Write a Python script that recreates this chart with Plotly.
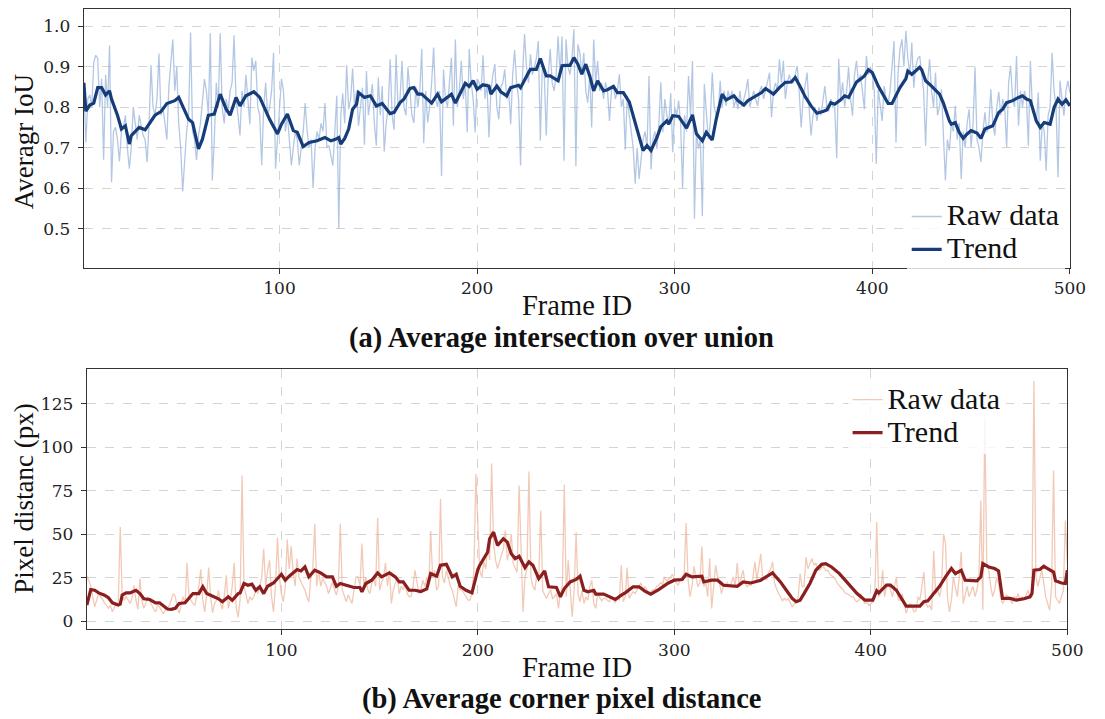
import plotly.graph_objects as go

# the page body has an 8 px margin, so the figure is drawn 8 px in and down
OFF = 8
W, H = 1105 - OFF, 719 - OFF

frames = list(range(1, 501))

iou_raw = [
    0.86, 0.713, 0.82, 0.83, 0.80, 0.91, 0.928, 0.92, 0.80, 0.87,
    0.67, 0.88, 0.80, 0.952, 0.615, 0.74, 0.75, 0.72, 0.666, 0.74,
    0.75, 0.78, 0.70, 0.648, 0.70, 0.80, 0.76, 0.72, 0.78, 0.75,
    0.73, 0.72, 0.664, 0.76, 0.903, 0.80, 0.78, 0.82, 0.932, 0.78,
    0.80, 0.76, 0.72, 0.85, 0.90, 0.967, 0.84, 0.90, 0.76, 0.70,
    0.592, 0.68, 0.74, 0.78, 0.984, 0.74, 0.72, 0.67, 0.73, 0.76,
    0.82, 0.869, 0.84, 0.78, 0.982, 0.619, 0.72, 0.86, 0.80, 0.982,
    0.80, 0.76, 0.82, 0.79, 0.84, 0.86, 0.977, 0.82, 0.78, 0.73,
    0.84, 0.80, 0.88, 0.82, 0.758, 0.922, 0.89, 0.914, 0.80, 0.78,
    0.657, 0.80, 0.86, 0.78, 0.80, 0.84, 0.934, 0.648, 0.72, 0.80,
    0.87, 0.84, 0.74, 0.78, 0.72, 0.656, 0.70, 0.74, 0.72, 0.656,
    0.70, 0.74, 0.81, 0.74, 0.70, 0.72, 0.60, 0.70, 0.74, 0.72,
    0.76, 0.74, 0.81, 0.70, 0.705, 0.68, 0.656, 0.74, 0.828, 0.50,
    0.78, 0.834, 0.76, 0.903, 0.795, 0.82, 0.895, 0.80, 0.84, 0.754,
    0.80, 0.848, 0.707, 0.889, 0.78, 0.82, 0.857, 0.76, 0.705, 0.873,
    0.78, 0.852, 0.69, 0.76, 0.80, 0.918, 0.78, 0.744, 0.93, 0.80,
    0.82, 0.914, 0.80, 0.78, 0.898, 0.84, 0.78, 0.761, 0.85, 0.80,
    0.84, 0.944, 0.711, 0.84, 0.762, 0.80, 0.86, 0.947, 0.82, 0.80,
    0.84, 0.63, 0.893, 0.82, 0.80, 0.86, 0.922, 0.754, 0.967, 0.80,
    0.84, 0.914, 0.82, 0.86, 0.738, 0.943, 0.86, 0.82, 0.738, 0.87,
    0.86, 0.84, 0.928, 0.82, 0.86, 0.725, 0.84, 0.88, 0.906, 0.80,
    0.77, 0.85, 0.86, 0.893, 0.82, 0.84, 0.758, 0.88, 0.941, 0.86,
    0.82, 0.656, 0.88, 0.98, 0.90, 0.86, 0.93, 0.88, 0.90, 0.92,
    0.963, 0.717, 0.90, 0.88, 0.73, 0.88, 0.943, 0.86, 0.84, 0.88,
    0.975, 0.88, 0.974, 0.668, 0.967, 0.90, 0.88, 0.92, 0.992, 0.654,
    0.955, 0.934, 0.88, 0.934, 0.84, 0.811, 0.88, 0.75, 0.967, 0.86,
    0.914, 0.84, 0.86, 0.82, 0.861, 0.84, 0.766, 0.84, 0.854, 0.82,
    0.84, 0.881, 0.80, 0.82, 0.695, 0.828, 0.78, 0.74, 0.70, 0.611,
    0.70, 0.623, 0.68, 0.72, 0.74, 0.70, 0.877, 0.646, 0.72, 0.74,
    0.697, 0.76, 0.861, 0.738, 0.82, 0.78, 0.76, 0.834, 0.689, 0.80,
    0.78, 0.816, 0.76, 0.60, 0.78, 0.74, 0.877, 0.78, 0.914, 0.525,
    0.74, 0.697, 0.72, 0.531, 0.857, 0.78, 0.721, 0.76, 0.885, 0.80,
    0.78, 0.779, 0.865, 0.80, 0.84, 0.803, 0.84, 0.82, 0.84, 0.80,
    0.82, 0.795, 0.84, 0.80, 0.82, 0.84, 0.869, 0.80, 0.82, 0.84,
    0.82, 0.803, 0.84, 0.852, 0.82, 0.84, 0.86, 0.885, 0.775, 0.84,
    0.86, 0.84, 0.918, 0.86, 0.914, 0.82, 0.86, 0.88, 0.86, 0.86,
    0.88, 0.902, 0.84, 0.75, 0.82, 0.86, 0.885, 0.80, 0.73, 0.78,
    0.80, 0.766, 0.80, 0.78, 0.82, 0.852, 0.80, 0.79, 0.82, 0.80,
    0.80, 0.674, 0.92, 0.82, 0.861, 0.80, 0.84, 0.898, 0.82, 0.779,
    0.88, 0.914, 0.86, 0.88, 0.84, 0.795, 0.926, 0.88, 0.90, 0.88,
    0.84, 0.66, 0.844, 0.80, 0.766, 0.852, 0.82, 0.807, 0.84, 0.90,
    0.963, 0.713, 0.88, 0.943, 0.967, 0.90, 0.988, 0.92, 0.88, 0.959,
    0.848, 0.90, 0.92, 0.926, 0.88, 0.84, 0.705, 0.86, 0.918, 0.84,
    0.80, 0.885, 0.78, 0.80, 0.844, 0.74, 0.619, 0.72, 0.693, 0.76,
    0.74, 0.803, 0.72, 0.76, 0.623, 0.74, 0.70, 0.76, 0.795, 0.701,
    0.76, 0.898, 0.72, 0.70, 0.664, 0.74, 0.787, 0.738, 0.76, 0.844,
    0.76, 0.73, 0.80, 0.838, 0.78, 0.82, 0.80, 0.701, 0.86, 0.902,
    0.82, 0.80, 0.926, 0.754, 0.84, 0.80, 0.84, 0.82, 0.705, 0.914,
    0.80, 0.78, 0.76, 0.836, 0.668, 0.76, 0.74, 0.643, 0.78, 0.80,
    0.934, 0.84, 0.80, 0.627, 0.865, 0.82, 0.779, 0.84, 0.865, 0.836,
]

iou_trend_frames = [
    1, 2, 4, 6, 8, 10, 12, 14, 15, 18, 20, 22, 24, 25, 29, 32, 37, 40, 43, 47,
    49, 54, 56, 59, 61, 64, 67, 70, 73, 75, 78, 80, 83, 87, 90, 95, 99, 101, 104, 107,
    109, 112, 115, 119, 123, 126, 128, 130, 131, 133, 135, 137, 139, 140, 143, 146, 149, 152, 156, 158,
    161, 163, 166, 168, 170, 172, 177, 180, 182, 187, 189, 192, 194, 196, 198, 200, 203, 206, 207, 210,
    212, 215, 217, 221, 222, 226, 227, 230, 232, 235, 237, 241, 243, 245, 247, 249, 251, 253, 255, 257,
    259, 261, 264, 266, 269, 271, 274, 277, 280, 282, 284, 286, 288, 291, 293, 296, 297, 299, 302, 306,
    309, 311, 314, 316, 319, 321, 324, 326, 327, 330, 332, 335, 337, 341, 344, 346, 350, 353, 356, 359,
    361, 364, 366, 369, 372, 375, 377, 379, 381, 384, 386, 388, 390, 392, 394, 396, 398, 400, 403, 405,
    408, 410, 412, 414, 417, 418, 420, 422, 424, 425, 427, 430, 434, 436, 439, 440, 442, 444, 446, 448,
    450, 453, 455, 457, 459, 461, 464, 466, 468, 471, 474, 476, 478, 480, 483, 485, 487, 490, 492, 494,
    496, 498, 500,
]
iou_trend = [
    0.86, 0.79, 0.805, 0.81, 0.848, 0.848, 0.83, 0.84, 0.82, 0.78, 0.746, 0.754, 0.709, 0.73, 0.75, 0.744, 0.78, 0.789, 0.809, 0.816,
    0.824, 0.77, 0.762, 0.697, 0.721, 0.78, 0.783, 0.832, 0.795, 0.78, 0.824, 0.803, 0.828, 0.838, 0.824, 0.77, 0.734, 0.758, 0.783, 0.742,
    0.738, 0.703, 0.713, 0.717, 0.725, 0.717, 0.72, 0.725, 0.709, 0.723, 0.746, 0.795, 0.807, 0.836, 0.824, 0.828, 0.803, 0.809, 0.784, 0.787,
    0.811, 0.82, 0.846, 0.848, 0.832, 0.832, 0.81, 0.832, 0.813, 0.832, 0.81, 0.838, 0.859, 0.851, 0.865, 0.844, 0.855, 0.852, 0.832, 0.852,
    0.838, 0.828, 0.848, 0.854, 0.848, 0.885, 0.893, 0.893, 0.92, 0.877, 0.877, 0.865, 0.902, 0.903, 0.903, 0.922, 0.906, 0.881, 0.906, 0.877,
    0.84, 0.865, 0.84, 0.843, 0.851, 0.836, 0.836, 0.813, 0.762, 0.721, 0.693, 0.705, 0.693, 0.725, 0.752, 0.766, 0.758, 0.779, 0.777, 0.748,
    0.781, 0.734, 0.717, 0.738, 0.719, 0.77, 0.832, 0.818, 0.82, 0.828, 0.816, 0.805, 0.816, 0.828, 0.836, 0.846, 0.832, 0.848, 0.861, 0.862,
    0.873, 0.846, 0.826, 0.803, 0.785, 0.789, 0.793, 0.811, 0.807, 0.818, 0.828, 0.824, 0.844, 0.862, 0.869, 0.877, 0.892, 0.885, 0.852, 0.836,
    0.809, 0.809, 0.828, 0.848, 0.87, 0.889, 0.881, 0.889, 0.898, 0.892, 0.865, 0.852, 0.832, 0.81, 0.766, 0.758, 0.762, 0.738, 0.723, 0.734,
    0.742, 0.736, 0.723, 0.746, 0.75, 0.754, 0.787, 0.795, 0.811, 0.816, 0.824, 0.828, 0.82, 0.816, 0.766, 0.75, 0.762, 0.758, 0.799, 0.82,
    0.807, 0.818, 0.803,
]

dist_raw = [
    25.8, 23.5, 20, 14, 8.2, 12, 16, 14, 12, 10.5,
    9, 7.3, 9, 5.3, 8, 10, 10.1, 54, 14, 12,
    14.3, 12, 10.1, 13, 20.6, 12, 6.7, 24.4, 12, 7.3,
    10, 14, 12, 9.2, 7, 5.3, 9, 8.2, 6, 4,
    7, 7.3, 9, 12, 15.8, 14.3, 8, 4.4, 9, 14,
    10, 33.4, 14, 12, 10, 9.2, 14, 20, 29.8, 12,
    5.3, 15, 30.7, 14, 4.8, 10, 12, 17.7, 10, 6.7,
    15, 26.3, 7.3, 12, 20, 33.4, 8, 2.1, 12, 83.6,
    20, 15.8, 10.1, 14, 12, 14, 18, 15.8, 20, 25,
    41.6, 20, 29.2, 34.9, 14, 5.3, 20, 47.9, 25, 15.8,
    11.1, 20, 46.8, 30, 42.9, 28.2, 20, 35.9, 25, 22.5,
    20, 17.7, 14, 11.1, 25, 30, 55.9, 20, 29.2, 20,
    24.4, 22, 20, 15.8, 18.7, 22.5, 18, 14.9, 20, 55.9,
    18, 14, 11.1, 15, 12, 10.1, 18, 25.4, 25.4, 20,
    44.5, 20, 25.4, 18, 15.8, 21.6, 24, 20, 59.4, 17.7,
    22, 25, 33.4, 20, 29.2, 10.1, 18, 22, 25.4, 15.8,
    20, 18, 21.6, 16, 14, 14, 20, 29.2, 22, 15.8,
    18, 23.5, 20, 25.4, 20, 51.7, 25, 29.2, 17.7, 20,
    70.2, 25.4, 22, 29.2, 25, 20, 17.7, 12, 8.2, 20.6,
    18, 17.7, 15.8, 14, 12, 12, 16, 29.2, 84.5, 55.9,
    29.2, 25, 34, 30, 44.5, 35, 90.6, 44.5, 35, 30.2,
    34, 38, 41.6, 52.1, 34.9, 40, 50.2, 33, 30, 28,
    77.9, 36.8, 5.3, 25.4, 30, 85.9, 25.4, 20, 17.7, 26.3,
    25, 63.5, 17.7, 15, 13, 15.8, 18, 13, 14, 15.8,
    7.3, 15.8, 20, 78.4, 14, 34.9, 20, 2.5, 18, 51.1,
    15.8, 11.1, 17.7, 10.1, 14, 12, 20, 23.5, 10, 7.3,
    15.8, 14, 11.6, 13, 13, 12, 11.1, 14, 12, 10.5,
    14, 12, 32.1, 11.1, 14, 30.7, 13, 15, 17, 15.8,
    18, 19.7, 22, 17.7, 20, 18, 15.8, 17, 18, 17.7,
    20, 20.6, 22, 21, 25.4, 23, 24, 25, 26.9, 24,
    22, 20.6, 24, 25.4, 27.3, 56.3, 23.5, 14, 20, 31.5,
    25, 19.7, 22, 42.9, 19.7, 22, 14, 35.9, 7.3, 20,
    32.1, 25.4, 22, 15.8, 20, 21.6, 22, 19.7, 22, 25.4,
    20, 33.4, 19.7, 25, 29.2, 22, 19.7, 21, 20.6, 25,
    34, 23.5, 30, 38.7, 23.5, 25, 23.5, 28, 30, 34,
    21.6, 18, 15.8, 14, 11.6, 13, 12, 13, 10, 8.2,
    10, 11.1, 14, 27.3, 20, 19.7, 36.8, 30, 33, 35.9,
    32, 33.4, 30, 29.2, 31, 31.1, 29, 29.2, 27.3, 26,
    25.4, 24, 21.6, 20, 19, 17.7, 16, 15.8, 15, 14,
    14, 12, 11.1, 12, 15.8, 12, 10.1, 11, 9, 10.1,
    11, 14, 56.9, 14, 16, 29.2, 14, 20, 21.6, 18,
    14, 20, 25.4, 12, 12, 15.8, 10, 4.4, 8, 10.1,
    8, 5.3, 6, 14, 12, 20, 28.2, 10.1, 8, 9,
    6.3, 40.3, 15.8, 18, 14, 20, 50.2, 44.5, 14, 5.3,
    12, 25.4, 20, 14, 25, 39.7, 10.1, 16, 20, 14,
    17.7, 20, 14, 18, 25, 69.3, 6.3, 117, 33, 29.2,
    20, 14, 18, 25, 21.6, 14, 10.1, 12, 15, 14,
    12, 10.1, 14, 13, 15.8, 12, 14, 13, 15, 17.7,
    14, 14, 138, 25.4, 20, 25.4, 29.2, 22, 14, 10,
    6.3, 20, 86.5, 14, 12, 10.1, 14, 17.7, 57.8, 33,
]

dist_trend_frames = [
    1, 3, 5, 7, 10, 12, 14, 17, 18, 19, 21, 23, 26, 28, 30, 33, 36, 38, 42, 44,
    46, 48, 51, 53, 55, 58, 60, 62, 64, 68, 70, 73, 75, 78, 79, 81, 83, 85, 87, 89,
    91, 93, 96, 98, 100, 102, 104, 108, 110, 112, 114, 117, 120, 123, 126, 128, 130, 133, 137, 140,
    141, 143, 146, 149, 151, 155, 158, 160, 162, 165, 168, 171, 174, 176, 179, 181, 184, 187, 189, 191,
    194, 197, 200, 201, 205, 206, 208, 210, 213, 215, 217, 219, 221, 224, 226, 228, 231, 234, 236, 240,
    242, 244, 247, 250, 252, 254, 256, 259, 260, 264, 267, 270, 273, 275, 279, 282, 285, 288, 292, 297,
    300, 304, 306, 309, 314, 315, 319, 322, 325, 329, 332, 335, 339, 344, 347, 350, 351, 354, 357, 360,
    362, 364, 366, 369, 372, 375, 377, 380, 384, 389, 393, 397, 401, 403, 404, 408, 410, 413, 415, 418,
    421, 425, 427, 429, 432, 435, 438, 441, 443, 446, 448, 452, 454, 456, 457, 460, 463, 465, 467, 471,
    474, 478, 481, 482, 483, 486, 488, 490, 493, 494, 497, 499, 500,
]
dist_trend = [
    9.2, 18.1, 17.7, 16.2, 14.9, 13.4, 10.5, 9.2, 9.7, 14.9, 16.2, 16.2, 17.7, 15.8, 12.8, 12.4, 10.5, 10.5, 6.9, 6.7,
    7.3, 10.1, 10.5, 13.5, 15.8, 15.8, 19.7, 15.8, 14.9, 12.8, 11.1, 13.9, 12.0, 15.8, 16.2, 21.6, 20.6, 21.2, 17.7, 19.7,
    15.8, 20, 21.9, 24.4, 26.9, 23.5, 25.8, 29.6, 28.8, 31.1, 25.4, 29.2, 27.7, 25.4, 25.4, 20, 21.6, 20.6, 19.3, 19.3,
    16.8, 21.6, 23.5, 27.7, 25.4, 27.7, 25.4, 22.5, 22.5, 17.7, 17.7, 17.0, 18.5, 27.3, 25.8, 32.1, 32.6, 25.4, 26.9, 20,
    17.7, 16.2, 29.6, 32.1, 39.7, 47.3, 51.1, 43.5, 47.3, 45.4, 38.7, 35.9, 37.2, 30.7, 34, 32.1, 24.4, 28.8, 19.7, 19.3,
    13.9, 18.7, 22.5, 23.9, 25.8, 17.7, 16.8, 17.7, 15.5, 15.5, 13.9, 12.4, 14.9, 16.2, 19.7, 19.7, 17.2, 15.5, 18.1, 21.9,
    23.5, 23.9, 26.9, 25.4, 25.8, 22.5, 23.5, 23.5, 20.6, 20, 20, 22.5, 21.9, 23.5, 25.4, 27.7, 26.3, 22.5, 17.7, 13,
    11.1, 12, 15.8, 21.6, 29.2, 32.6, 33, 31.1, 27.3, 20.6, 15.8, 12, 12, 17.4, 16.2, 20.6, 20.6, 17.7, 13.9, 8.6,
    8.6, 8.6, 11.1, 11.6, 15.8, 20, 25.4, 30.2, 27.3, 29.2, 23.5, 23.5, 23.1, 25.4, 33, 31.1, 30.2, 28.8, 13, 13,
    12, 12.8, 13.9, 15.8, 29.2, 29.6, 31.5, 30.2, 28.2, 23.1, 21.9, 21.6, 29.2,
]

x_ticks = [100, 200, 300, 400, 500]
iou_ticks = [0.5, 0.6, 0.7, 0.8, 0.9, 1.0]
dist_ticks = [0, 25, 50, 75, 100, 125]
legend_names = ["Raw data", "Trend"]

assert len(iou_raw) == 500 and len(dist_raw) == 500
assert len(iou_trend_frames) == len(iou_trend)
assert len(dist_trend_frames) == len(dist_trend)

SERIF = "Liberation Serif"
TICKF = dict(family="DejaVu Serif", size=17, color="#222")
TXT = 28.5


def lname(s):
    # larger glyphs while the legend row height follows the smaller legend font
    return f'<span style="font-size:30px">{s}</span>'


fig = go.Figure()
fig.add_trace(go.Scatter(x=frames, y=iou_raw, mode="lines", name=lname(legend_names[0]),
                         line=dict(color="rgba(150,178,218,0.72)", width=1.3),
                         xaxis="x", yaxis="y", legend="legend"))
fig.add_trace(go.Scatter(x=iou_trend_frames, y=iou_trend, mode="lines", name=lname(legend_names[1]),
                         line=dict(color="#163d7a", width=3.2),
                         xaxis="x", yaxis="y", legend="legend"))
fig.add_trace(go.Scatter(x=frames, y=dist_raw, mode="lines", name=lname(legend_names[0]),
                         line=dict(color="rgba(236,176,148,0.68)", width=1.3),
                         xaxis="x2", yaxis="y2", legend="legend2"))
fig.add_trace(go.Scatter(x=dist_trend_frames, y=dist_trend, mode="lines", name=lname(legend_names[1]),
                         line=dict(color="#8b1e1e", width=3.2),
                         xaxis="x2", yaxis="y2", legend="legend2"))

ax = dict(showline=True, linecolor="#333", linewidth=1.3, mirror=True,
          ticks="outside", ticklen=5, tickcolor="#333", tickwidth=1.2,
          showgrid=True, gridcolor="#d4d4d4", griddash="dash", gridwidth=1,
          zeroline=False, tickfont=TICKF)


def px_x(v):
    # screen pixel -> paper fraction
    return (v - OFF) / W


def px_y(v):
    return 1 - (v - OFF) / H


LEG = dict(xanchor="left", yanchor="middle", bgcolor="rgba(255,255,255,0.8)",
           borderwidth=0, font=dict(family=SERIF, size=23, color="#111"))

fig.update_layout(
    width=W, height=H, margin=dict(l=0, r=0, t=0, b=0),
    paper_bgcolor="white", plot_bgcolor="white",
    xaxis=dict(ax, domain=[px_x(85), px_x(1086)], range=[1, 500.2],
               tickvals=x_ticks, anchor="y"),
    yaxis=dict(ax, domain=[px_y(268), px_y(8)], range=[0.4035, 1.042],
               tickvals=iou_ticks, ticktext=[f"{v:.1f}" for v in iou_ticks],
               anchor="x", ticklabelstandoff=4),
    xaxis2=dict(ax, domain=[px_x(88), px_x(1083)], range=[1, 500],
                tickvals=x_ticks, anchor="y2"),
    yaxis2=dict(ax, domain=[px_y(630.7), px_y(370)], range=[-4.6, 144.6],
                tickvals=dist_ticks, anchor="x2", ticklabelstandoff=4),
    legend=dict(LEG, x=px_x(920), y=px_y(233)),
    legend2=dict(LEG, x=px_x(860), y=px_y(417)),
    showlegend=True,
)


def label(text, x, y, angle=0, size=TXT):
    return dict(text=text, x=px_x(x), y=px_y(y), xref="paper", yref="paper",
                showarrow=False, textangle=angle, xanchor="center", yanchor="middle",
                font=dict(family=SERIF, size=size, color="#111"))


fig.update_layout(annotations=[
    label("Frame ID", 585, 306),
    label("<b>(a) Average intersection over union</b>", 570, 338),
    label("Averagr IoU", 25, 141, -90, 27),
    label("Frame ID", 585, 669),
    label("<b>(b) Average corner pixel distance</b>", 570, 701),
    label("Pixel distanc (px)", 24, 500, -90, 27),
])

fig.write_html("out.html")
